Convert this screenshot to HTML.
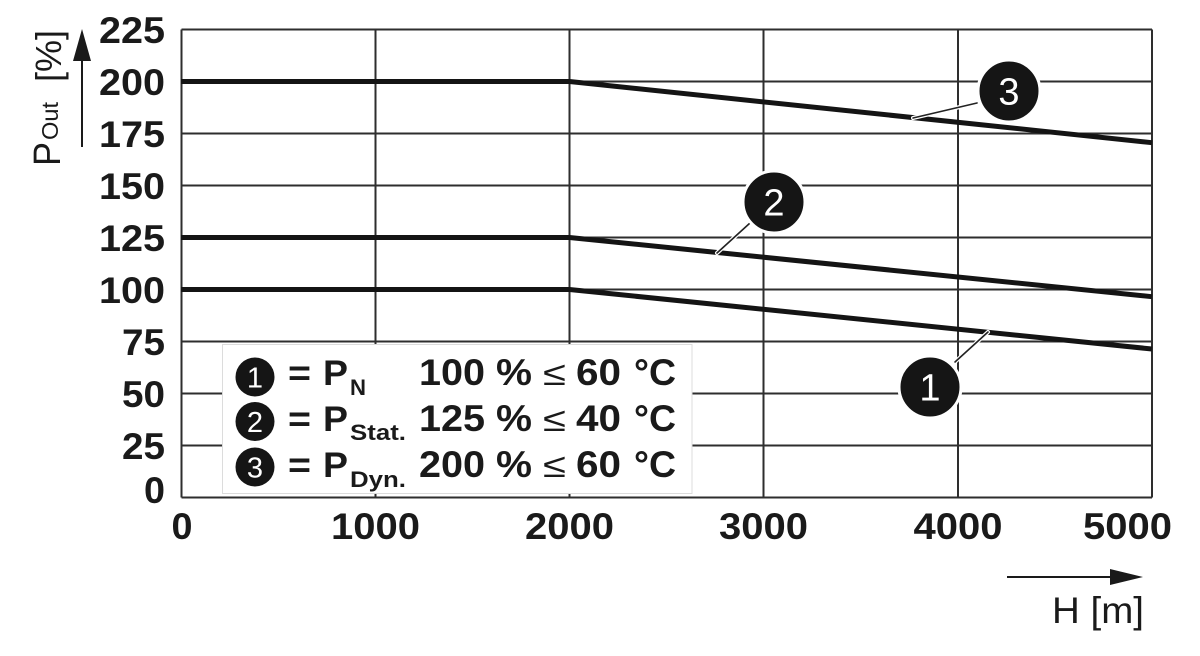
<!DOCTYPE html>
<html>
<head>
<meta charset="utf-8">
<style>
  html, body { margin:0; padding:0; background:#fff; }
  svg { display:block; }
  text { font-family: "Liberation Sans", "DejaVu Sans", sans-serif; }
  .b { font-weight:bold; fill:#1a1a1a; }
  .r { font-weight:normal; fill:#1a1a1a; }
</style>
</head>
<body>
<svg width="1200" height="656" viewBox="0 0 1200 656" xmlns="http://www.w3.org/2000/svg">
  <rect x="0" y="0" width="1200" height="656" fill="#fff"/>

  <!-- grid -->
  <g stroke="#2e2e2e" stroke-width="2" fill="none">
    <line x1="181.5" y1="29.5" x2="1152" y2="29.5"/>
    <line x1="181.5" y1="81.5" x2="1152" y2="81.5"/>
    <line x1="181.5" y1="133.5" x2="1152" y2="133.5"/>
    <line x1="181.5" y1="185.5" x2="1152" y2="185.5"/>
    <line x1="181.5" y1="237.5" x2="1152" y2="237.5"/>
    <line x1="181.5" y1="289.5" x2="1152" y2="289.5"/>
    <line x1="181.5" y1="341.5" x2="1152" y2="341.5"/>
    <line x1="181.5" y1="393.5" x2="1152" y2="393.5"/>
    <line x1="181.5" y1="445.5" x2="1152" y2="445.5"/>
    <line x1="181.5" y1="497.5" x2="1152" y2="497.5"/>
    <line x1="181.5" y1="29.5" x2="181.5" y2="497.5"/>
    <line x1="375.5" y1="29.5" x2="375.5" y2="497.5"/>
    <line x1="569.5" y1="29.5" x2="569.5" y2="497.5"/>
    <line x1="763.5" y1="29.5" x2="763.5" y2="497.5"/>
    <line x1="958" y1="29.5" x2="958" y2="497.5"/>
    <line x1="1152" y1="29.5" x2="1152" y2="497.5"/>
  </g>

  <!-- series -->
  <g stroke="#141414" stroke-width="5" fill="none" stroke-linejoin="round">
    <polyline points="181,81.5 569.5,81.5 1152,142.7"/>
    <polyline points="181,237.5 569.5,237.5 1152,296.7"/>
    <polyline points="181,289.5 569.5,289.5 1152,349"/>
  </g>

  <!-- leader lines -->
  <g stroke-linecap="round">
    <line x1="977" y1="103" x2="913" y2="118" stroke="#fff" stroke-width="4"/>
    <line x1="977" y1="103" x2="913" y2="118" stroke="#222" stroke-width="1.6"/>
    <line x1="750" y1="223" x2="717" y2="253" stroke="#fff" stroke-width="4"/>
    <line x1="750" y1="223" x2="717" y2="253" stroke="#222" stroke-width="1.6"/>
    <line x1="955" y1="362" x2="988" y2="332" stroke="#fff" stroke-width="4"/>
    <line x1="955" y1="362" x2="988" y2="332" stroke="#222" stroke-width="1.6"/>
  </g>

  <!-- callout circles -->
  <g>
    <circle cx="1009" cy="91" r="31" fill="#151515" stroke="#fff" stroke-width="3"/>
    <text x="1009" y="104.5" text-anchor="middle" font-size="38" style="fill:#fff">3</text>
    <circle cx="774" cy="202" r="31" fill="#151515" stroke="#fff" stroke-width="3"/>
    <text x="774" y="215.5" text-anchor="middle" font-size="38" style="fill:#fff">2</text>
    <circle cx="930" cy="387" r="31" fill="#151515" stroke="#fff" stroke-width="3"/>
    <text x="930" y="400.5" text-anchor="middle" font-size="38" style="fill:#fff">1</text>
  </g>

  <!-- legend -->
  <rect x="222.5" y="344.5" width="469.5" height="149" fill="#fff" stroke="#dcdcdc" stroke-width="1"/>
  <g>
    <circle cx="255" cy="377" r="19.5" fill="#151515"/>
    <text x="255" y="387.5" text-anchor="middle" font-size="29" style="fill:#fff">1</text>
    <circle cx="255" cy="421.5" r="19.5" fill="#151515"/>
    <text x="255" y="432" text-anchor="middle" font-size="29" style="fill:#fff">2</text>
    <circle cx="255" cy="467" r="19.5" fill="#151515"/>
    <text x="255" y="477.5" text-anchor="middle" font-size="29" style="fill:#fff">3</text>

    <!-- row 1 -->
    <text class="b" x="288" y="385" font-size="36" textLength="23" lengthAdjust="spacingAndGlyphs">=</text>
    <text class="b" x="323" y="385" font-size="35" textLength="25" lengthAdjust="spacingAndGlyphs">P</text>
    <text class="b" x="350" y="395" font-size="22" textLength="16" lengthAdjust="spacingAndGlyphs">N</text>
    <text class="b" x="419" y="385" font-size="37" textLength="66" lengthAdjust="spacingAndGlyphs">100</text>
    <text class="b" x="496" y="385" font-size="37" textLength="36" lengthAdjust="spacingAndGlyphs">%</text>
    <text class="r" x="543" y="385" font-size="34" textLength="23" lengthAdjust="spacingAndGlyphs">≤</text>
    <text class="b" x="576" y="385" font-size="37" textLength="45" lengthAdjust="spacingAndGlyphs">60</text>
    <text class="b" x="634" y="385" font-size="37" textLength="42" lengthAdjust="spacingAndGlyphs">°C</text>

    <!-- row 2 -->
    <text class="b" x="288" y="431" font-size="36" textLength="23" lengthAdjust="spacingAndGlyphs">=</text>
    <text class="b" x="323" y="431" font-size="35" textLength="25" lengthAdjust="spacingAndGlyphs">P</text>
    <text class="b" x="350" y="440" font-size="22" textLength="56" lengthAdjust="spacingAndGlyphs">Stat.</text>
    <text class="b" x="419" y="431" font-size="37" textLength="66" lengthAdjust="spacingAndGlyphs">125</text>
    <text class="b" x="496" y="431" font-size="37" textLength="36" lengthAdjust="spacingAndGlyphs">%</text>
    <text class="r" x="543" y="431" font-size="34" textLength="23" lengthAdjust="spacingAndGlyphs">≤</text>
    <text class="b" x="576" y="431" font-size="37" textLength="45" lengthAdjust="spacingAndGlyphs">40</text>
    <text class="b" x="634" y="431" font-size="37" textLength="42" lengthAdjust="spacingAndGlyphs">°C</text>

    <!-- row 3 -->
    <text class="b" x="288" y="477" font-size="36" textLength="23" lengthAdjust="spacingAndGlyphs">=</text>
    <text class="b" x="323" y="477" font-size="35" textLength="25" lengthAdjust="spacingAndGlyphs">P</text>
    <text class="b" x="350" y="487" font-size="22" textLength="56" lengthAdjust="spacingAndGlyphs">Dyn.</text>
    <text class="b" x="419" y="477" font-size="37" textLength="66" lengthAdjust="spacingAndGlyphs">200</text>
    <text class="b" x="496" y="477" font-size="37" textLength="36" lengthAdjust="spacingAndGlyphs">%</text>
    <text class="r" x="543" y="477" font-size="34" textLength="23" lengthAdjust="spacingAndGlyphs">≤</text>
    <text class="b" x="576" y="477" font-size="37" textLength="45" lengthAdjust="spacingAndGlyphs">60</text>
    <text class="b" x="634" y="477" font-size="37" textLength="42" lengthAdjust="spacingAndGlyphs">°C</text>
  </g>

  <!-- y tick labels -->
  <g font-size="37" text-anchor="end">
    <text class="b" x="165" y="43" textLength="66" lengthAdjust="spacingAndGlyphs">225</text>
    <text class="b" x="165" y="95" textLength="66" lengthAdjust="spacingAndGlyphs">200</text>
    <text class="b" x="165" y="147" textLength="66" lengthAdjust="spacingAndGlyphs">175</text>
    <text class="b" x="165" y="199" textLength="66" lengthAdjust="spacingAndGlyphs">150</text>
    <text class="b" x="165" y="251" textLength="66" lengthAdjust="spacingAndGlyphs">125</text>
    <text class="b" x="165" y="303" textLength="66" lengthAdjust="spacingAndGlyphs">100</text>
    <text class="b" x="165" y="355" textLength="43" lengthAdjust="spacingAndGlyphs">75</text>
    <text class="b" x="165" y="407" textLength="43" lengthAdjust="spacingAndGlyphs">50</text>
    <text class="b" x="165" y="459" textLength="43" lengthAdjust="spacingAndGlyphs">25</text>
    <text class="b" x="165" y="503" textLength="21" lengthAdjust="spacingAndGlyphs">0</text>
  </g>

  <!-- x tick labels -->
  <g font-size="37" text-anchor="middle">
    <text class="b" x="182" y="539" textLength="21" lengthAdjust="spacingAndGlyphs">0</text>
    <text class="b" x="375.5" y="539" textLength="89" lengthAdjust="spacingAndGlyphs">1000</text>
    <text class="b" x="569.5" y="539" textLength="89" lengthAdjust="spacingAndGlyphs">2000</text>
    <text class="b" x="763.5" y="539" textLength="89" lengthAdjust="spacingAndGlyphs">3000</text>
    <text class="b" x="958" y="539" textLength="89" lengthAdjust="spacingAndGlyphs">4000</text>
    <text class="b" x="1127.5" y="539" textLength="89" lengthAdjust="spacingAndGlyphs">5000</text>
  </g>

  <!-- y axis title -->
  <text class="r" x="60" y="166" font-size="38" transform="rotate(-90 60 166)" textLength="24" lengthAdjust="spacingAndGlyphs">P</text>
  <text class="r" x="58" y="140" font-size="23" transform="rotate(-90 58 140)" textLength="38" lengthAdjust="spacingAndGlyphs">Out</text>
  <text class="r" x="61" y="82" font-size="36" transform="rotate(-90 61 82)" textLength="52" lengthAdjust="spacingAndGlyphs">[%]</text>

  <!-- y axis arrow -->
  <line x1="82" y1="147" x2="82" y2="55" stroke="#1a1a1a" stroke-width="2"/>
  <polygon points="82,29 73,61 91,61" fill="#1a1a1a"/>

  <!-- x axis arrow -->
  <line x1="1007" y1="577" x2="1115" y2="577" stroke="#1a1a1a" stroke-width="2"/>
  <polygon points="1143,577 1110,569 1110,585" fill="#1a1a1a"/>

  <!-- x axis title -->
  <text class="r" x="1052" y="623" font-size="37" textLength="92" lengthAdjust="spacingAndGlyphs">H [m]</text>
</svg>
</body>
</html>
